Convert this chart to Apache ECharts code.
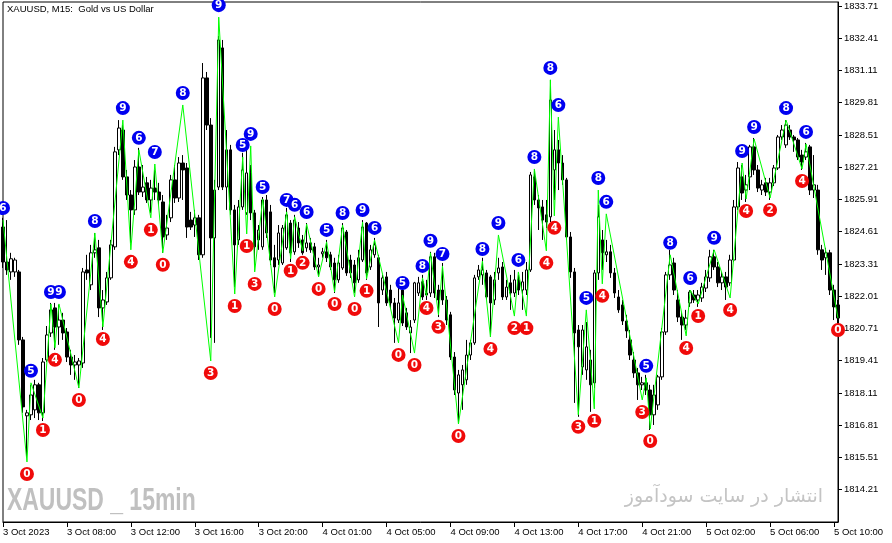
<!DOCTYPE html>
<html><head><meta charset="utf-8">
<script src="https://cdn.jsdelivr.net/npm/echarts@6/dist/echarts.min.js"></script>
<style>html,body{margin:0;padding:0;background:#fff}#c{width:892px;height:543px}</style>
</head><body><div id="c"></div>
<script>
const xTickLabels = ['3 Oct 2023','3 Oct 08:00','3 Oct 12:00','3 Oct 16:00','3 Oct 20:00','4 Oct 01:00','4 Oct 05:00','4 Oct 09:00','4 Oct 13:00','4 Oct 17:00','4 Oct 21:00','5 Oct 02:00','5 Oct 06:00','5 Oct 10:00'];
const yTicks = [1814.21,1815.51,1816.81,1818.11,1819.41,1820.71,1822.01,1823.31,1824.61,1825.91,1827.21,1828.51,1829.81,1831.11,1832.41,1833.71];

const open = [
1824.80,1823.39,1822.99,1822.99,1822.99,1820.25,1817.19,1817.23,1817.43,1818.44,
1817.31,1819.44,1820.53,1821.54,1820.77,1821.05,1820.57,1819.56,1819.24,1819.24,
1819.32,1823.07,1822.47,1823.76,1823.96,1821.54,1821.78,1822.75,1824.00,1827.91,
1828.71,1826.82,1826.09,1825.49,1827.22,1826.21,1826.58,1825.89,1826.37,1826.21,
1825.81,1824.48,1825.17,1826.70,1825.97,1827.38,1827.18,1825.08,1824.88,1825.17,
1823.68,1830.81,1828.91,1824.36,1826.41,1832.02,1826.41,1827.91,1825.49,1824.28,
1825.61,1825.37,1826.98,1825.37,1824.28,1824.00,1825.89,1825.41,1823.56,1823.47,
1823.35,1823.96,1824.96,1823.80,1824.76,1824.28,1823.96,1824.16,1824.00,1823.19,
1823.72,1823.80,1823.68,1823.35,1822.67,1823.15,1824.60,1823.47,1823.27,1822.67,
1823.47,1824.96,1823.19,1823.68,1823.56,1822.26,1822.79,1822.26,1821.74,1821.05,
1822.26,1821.34,1820.53,1821.05,1822.14,1822.59,1822.14,1822.14,1823.60,1822.26,
1822.26,1821.86,1821.26,1819.56,1818.11,1818.44,1818.64,1819.64,1820.13,1822.79,
1822.87,1822.95,1822.79,1821.86,1822.95,1823.19,1821.98,1822.55,1822.14,1822.67,
1822.26,1822.26,1823.07,1826.82,1825.89,1825.61,1825.29,1825.21,1827.10,1827.91,
1827.38,1826.70,1824.40,1822.99,1820.65,1819.16,1819.04,1819.44,1818.52,1822.95,
1824.28,1823.68,1823.80,1822.95,1821.98,1821.66,1821.01,1820.25,1819.44,1818.92,
1818.44,1818.52,1818.23,1817.23,1817.63,1818.76,1820.57,1822.87,1823.35,1821.86,
1821.17,1820.85,1821.74,1822.06,1821.86,1821.94,1822.34,1822.75,1823.60,1823.19,
1822.55,1822.79,1822.55,1823.47,1825.61,1826.82,1826.29,1826.82,1828.03,1827.10,
1826.29,1826.58,1826.21,1826.58,1827.18,1828.43,1828.11,1828.71,1828.43,1828.31,
1827.70,1827.62,1828.03,1826.29,1826.29,1823.88,1823.56,1823.76,1822.26,1821.66
];
const close = [
1823.39,1823.07,1823.52,1823.47,1820.25,1817.55,1817.31,1818.03,1818.44,1817.31,
1819.36,1820.45,1821.46,1820.77,1821.05,1820.53,1819.56,1819.24,1819.36,1819.40,
1822.99,1822.95,1823.76,1823.88,1821.54,1821.86,1822.75,1824.08,1827.83,1828.79,
1826.82,1826.09,1825.49,1827.22,1826.21,1826.41,1825.89,1826.37,1826.21,1825.89,
1824.40,1824.76,1826.70,1825.97,1827.38,1827.10,1824.80,1824.80,1825.17,1823.68,
1830.81,1828.91,1824.36,1826.29,1832.34,1826.41,1827.91,1825.49,1824.08,1825.61,
1827.10,1826.98,1825.37,1824.00,1824.68,1825.89,1824.56,1823.47,1823.19,1824.56,
1824.76,1825.29,1823.76,1825.08,1824.16,1823.76,1824.16,1823.88,1823.19,1823.27,
1823.80,1823.56,1823.19,1822.67,1823.35,1824.76,1822.95,1822.95,1822.55,1823.56,
1824.80,1822.95,1823.88,1824.08,1821.74,1822.75,1821.74,1821.74,1821.13,1821.74,
1820.93,1820.77,1820.77,1822.55,1822.55,1821.98,1822.06,1823.60,1822.14,1821.86,
1821.86,1821.05,1819.56,1818.23,1818.84,1819.04,1819.64,1820.13,1822.75,1823.07,
1823.07,1821.98,1821.74,1822.67,1823.15,1821.98,1822.38,1822.14,1822.67,1822.26,
1822.59,1823.07,1826.90,1825.89,1825.57,1825.08,1825.00,1829.92,1827.91,1827.38,
1826.70,1824.40,1822.99,1820.53,1819.97,1820.65,1819.97,1818.44,1822.95,1825.21,
1823.76,1823.80,1822.95,1822.14,1821.46,1821.01,1820.61,1819.64,1818.92,1818.44,
1818.52,1818.23,1817.23,1818.03,1818.76,1820.57,1822.87,1823.27,1822.26,1821.17,
1820.85,1821.13,1822.18,1821.86,1822.06,1822.38,1822.79,1823.60,1823.19,1822.55,
1822.79,1822.38,1823.47,1825.61,1827.18,1826.17,1826.50,1828.03,1827.10,1826.37,
1826.50,1826.21,1826.58,1827.18,1828.43,1828.71,1828.91,1828.43,1828.31,1827.62,
1827.42,1827.83,1826.29,1826.50,1823.88,1823.47,1823.76,1822.26,1821.58,1821.13
];
const low = [
1823.15,1822.87,1822.67,1822.79,1820.05,1817.31,1815.49,1817.02,1817.10,1817.02,
1816.98,1819.36,1820.37,1819.85,1820.05,1820.25,1819.36,1818.84,1818.64,1818.31,
1819.12,1822.67,1822.26,1823.56,1821.17,1820.65,1821.66,1822.67,1823.88,1827.70,
1826.70,1825.89,1824.16,1825.29,1826.09,1826.01,1825.77,1825.37,1825.89,1825.69,
1823.76,1824.28,1825.00,1825.77,1825.81,1825.89,1824.36,1824.68,1824.40,1823.47,
1823.56,1828.71,1820.33,1820.13,1826.29,1826.29,1825.49,1825.29,1822.38,1824.08,
1825.49,1825.29,1825.08,1823.19,1823.88,1823.88,1824.36,1823.27,1822.14,1823.27,
1823.27,1823.88,1823.39,1823.68,1823.96,1823.68,1823.80,1823.76,1823.07,1822.79,
1823.56,1823.39,1823.07,1822.14,1822.55,1823.07,1822.83,1822.75,1822.14,1822.55,
1823.39,1822.67,1823.07,1823.56,1820.77,1822.06,1821.62,1821.54,1820.13,1820.93,
1820.81,1820.65,1819.72,1820.93,1822.02,1821.86,1821.86,1821.98,1821.94,1821.17,
1821.66,1820.85,1819.44,1818.03,1816.90,1817.43,1818.44,1819.44,1820.05,1822.67,
1822.47,1821.86,1820.37,1821.66,1822.67,1821.86,1821.86,1821.46,1821.98,1822.06,
1821.46,1822.06,1822.99,1825.69,1824.68,1824.28,1824.76,1825.00,1825.89,1826.29,
1826.50,1824.28,1822.75,1817.71,1817.15,1818.84,1818.64,1817.35,1818.31,1822.67,
1823.07,1823.39,1822.75,1821.94,1821.34,1820.85,1820.33,1819.44,1818.72,1817.83,
1818.23,1818.03,1816.62,1816.82,1817.43,1818.64,1820.45,1822.67,1822.06,1820.97,
1820.25,1820.65,1821.58,1821.74,1821.58,1821.78,1822.18,1822.59,1823.07,1822.38,
1822.26,1821.86,1822.43,1823.39,1825.49,1825.89,1825.81,1826.29,1826.90,1826.21,
1826.09,1826.05,1825.89,1826.45,1827.10,1828.31,1827.99,1828.31,1827.83,1827.50,
1827.10,1827.50,1826.09,1825.97,1823.68,1823.07,1822.87,1822.06,1821.05,1820.77
];
const high = [
1825.17,1825.08,1823.76,1823.56,1823.07,1820.37,1817.43,1818.44,1818.64,1818.52,
1819.52,1820.81,1821.74,1821.74,1821.66,1821.34,1820.73,1819.85,1819.64,1819.52,
1823.15,1823.68,1824.08,1824.56,1824.28,1822.26,1822.99,1824.28,1828.03,1829.11,
1828.91,1827.10,1826.29,1827.50,1827.99,1827.30,1826.82,1826.70,1827.10,1826.58,
1826.09,1825.29,1826.90,1827.30,1827.62,1827.70,1827.38,1825.41,1825.49,1825.29,
1831.41,1831.05,1829.19,1826.70,1832.50,1832.34,1828.71,1828.11,1825.69,1825.89,
1827.79,1828.19,1827.30,1825.49,1824.88,1826.01,1826.09,1825.69,1824.08,1824.88,
1824.88,1825.57,1825.08,1825.29,1825.00,1824.48,1824.96,1824.36,1824.16,1823.56,
1823.96,1824.28,1823.80,1823.56,1823.68,1824.96,1824.68,1823.68,1823.47,1823.88,
1825.08,1825.00,1824.08,1824.36,1823.68,1822.87,1822.99,1822.47,1821.94,1822.38,
1822.34,1821.54,1821.05,1822.59,1822.79,1822.87,1822.67,1823.80,1823.76,1822.47,
1823.35,1822.02,1821.38,1819.76,1819.04,1819.24,1820.25,1820.25,1822.87,1823.27,
1823.56,1823.07,1822.87,1822.99,1823.56,1823.39,1822.67,1822.87,1823.07,1822.87,
1822.99,1823.39,1827.02,1827.10,1826.09,1825.89,1825.89,1830.73,1828.71,1828.31,
1827.70,1826.78,1824.60,1823.15,1820.85,1820.85,1820.97,1819.85,1823.07,1825.69,
1824.68,1824.28,1824.08,1823.15,1822.26,1821.86,1821.26,1820.65,1819.76,1819.12,
1818.76,1818.84,1818.44,1818.44,1818.84,1820.73,1822.99,1823.88,1823.56,1822.26,
1821.38,1821.46,1822.26,1822.26,1822.26,1822.55,1823.07,1823.88,1823.88,1823.39,
1822.99,1822.99,1823.68,1825.89,1827.42,1827.30,1826.90,1828.11,1828.39,1827.30,
1826.70,1826.78,1826.78,1827.30,1828.51,1828.91,1829.11,1828.91,1828.51,1828.39,
1827.91,1828.19,1828.11,1827.70,1826.50,1824.08,1823.96,1823.88,1822.47,1821.86
];

// zigzag pivots (bar ordinal, value at the green line tip, counter digit, side)
const zzIndex = [0,6,7,10,12,13,14,19,23,25,30,32,34,37,38,40,45,52,54,58,60,61,62,63,65,68,71,72,73,75,76,79,81,83,85,88,90,91,93,99,100,103,105,106,107,109,110,114,120,122,124,128,129,131,133,136,137,138,139,144,146,148,149,150,151,160,161,162,167,171,172,174,178,182,185,186,188,192,196,200,201,209];
const zzValue = [1825.08,1815.33,1818.52,1817.10,1821.70,1819.93,1821.70,1818.31,1824.56,1820.77,1829.11,1823.88,1827.91,1825.17,1827.34,1823.76,1829.72,1819.40,1833.26,1822.10,1827.62,1824.52,1828.07,1822.99,1825.93,1821.98,1825.41,1823.52,1825.21,1823.84,1824.92,1822.79,1824.20,1822.18,1824.88,1821.98,1825.00,1822.71,1824.28,1820.13,1822.06,1819.72,1822.75,1822.02,1823.76,1821.26,1823.23,1816.86,1823.43,1820.37,1824.48,1821.21,1822.99,1821.21,1827.14,1823.84,1830.73,1825.25,1829.23,1817.23,1821.46,1817.47,1826.29,1822.51,1825.33,1817.83,1818.72,1816.66,1823.68,1820.41,1822.26,1821.70,1823.88,1821.94,1827.38,1825.93,1828.35,1825.97,1829.11,1827.14,1828.15,1821.13];
const zzNumber = [6,0,5,1,9,4,9,0,8,4,9,4,6,1,7,0,8,3,9,1,5,1,9,3,5,0,7,1,6,2,6,0,5,0,8,0,9,1,6,0,5,0,8,4,9,3,7,0,8,4,9,2,6,1,8,4,8,4,6,3,5,1,8,4,6,3,5,0,8,4,6,1,9,4,9,4,9,2,8,4,6,0];
const zzSide = ['H','L','H','L','H','L','H','L','H','L','H','L','H','L','H','L','H','L','H','L','H','L','H','L','H','L','H','L','H','L','H','L','H','L','H','L','H','L','H','L','H','L','H','L','H','L','H','L','H','L','H','L','H','L','H','L','H','L','H','L','H','L','H','L','H','L','H','L','H','L','H','L','H','L','H','L','H','L','H','L','H','L'];

const categories = open.map((_, i) => String(i));
const candles = open.map((o, i) => [o, close[i], low[i], high[i]]);
const zigzag = zzIndex.map((x, i) => [x, zzValue[i]]);
const marks = side => zzIndex.map((x, i) => zzSide[i] === side ? {
  value: [x, zzValue[i]], label: { formatter: String(zzNumber[i]) }
} : null).filter(Boolean);

const chart = echarts.init(document.getElementById('c'), null, { renderer: 'canvas' });
chart.setOption({
  animation: false,
  backgroundColor: '#fff',
  grid: { left: 2, right: 54, top: 2, bottom: 21, show: true, borderColor: '#000', borderWidth: 1, backgroundColor: '#fff' },
  xAxis: {
    type: 'category', data: categories, boundaryGap: false,
    axisLine: { lineStyle: { color: '#000', width: 1 } },
    axisTick: { interval: i => i % 16 === 0, length: 5, lineStyle: { color: '#000' } },
    axisLabel: { interval: i => i % 16 === 0, formatter: (v, i) => xTickLabels[i / 16] || '', align: 'left', margin: 5,
      color: '#000', fontSize: 9.5, fontFamily: 'Liberation Sans' },
    splitLine: { show: false }
  },
  yAxis: {
    type: 'value', position: 'right', min: 1812.91, max: 1833.87,
    axisLine: { show: true, lineStyle: { color: '#000', width: 1 } },
    axisTick: { show: true, length: 4, lineStyle: { color: '#000' }, customValues: yTicks },
    axisLabel: { customValues: yTicks, formatter: v => v.toFixed(2), color: '#000', fontSize: 9.5, fontFamily: 'Liberation Sans', margin: 6 },
    splitLine: { show: false }
  },
  graphic: [
    { type: 'text', left: 7, top: 4, z: 10, style: { text: 'XAUUSD, M15:  Gold vs US Dollar', fill: '#000', font: '9.5px "Liberation Sans"' } },
    { type: 'text', x: 7, y: 486, scaleX: 0.74, z: 0, style: { text: 'XAUUSD _ 15min', fill: '#c0c0c0', font: 'bold 31px "Liberation Sans"' } },
    { type: 'text', right: 69, top: 488, z: 0, style: { text: 'انتشار در سایت سودآموز', fill: '#c4c4c4', font: '19px "DejaVu Sans"' } }
  ],
  series: [
    { type: 'candlestick', data: candles, barWidth: 3, z: 2,
      itemStyle: { color: '#ffffff', color0: '#000000', borderColor: '#000000', borderColor0: '#000000', borderWidth: 1 } },
    { type: 'line', data: zigzag, showSymbol: false, symbol: 'none', z: 3, lineStyle: { color: '#00ff00', width: 1 } },
    { type: 'scatter', data: marks('H'), symbol: 'circle', symbolSize: 14, symbolOffset: [0, -12], z: 5,
      itemStyle: { color: '#0000f0', opacity: 1 },
      label: { show: true, position: 'inside', color: '#fff', fontSize: 10.5, fontWeight: 'bold', fontFamily: 'DejaVu Sans' } },
    { type: 'scatter', data: marks('L'), symbol: 'circle', symbolSize: 14, symbolOffset: [0, 12], z: 5,
      itemStyle: { color: '#f00a0a', opacity: 1 },
      label: { show: true, position: 'inside', color: '#fff', fontSize: 10.5, fontWeight: 'bold', fontFamily: 'DejaVu Sans' } }
  ]
});
</script></body></html>
